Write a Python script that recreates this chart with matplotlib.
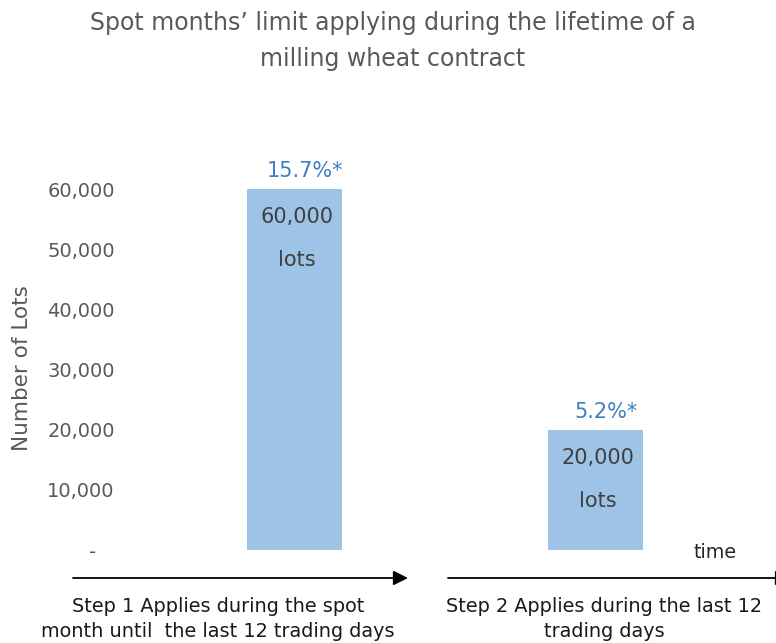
import matplotlib
matplotlib.use('Agg')
import matplotlib.pyplot as plt
import numpy as np

# data
steps = ['Step 1 Applies during the spot\nmonth until  the last 12 trading days',
         'Step 2 Applies during the last 12\ntrading days']
lots = [60000, 20000]
share = ['15.7%*', '5.2%*']
yticks = [0, 10000, 20000, 30000, 40000, 50000, 60000]
ytick_labels = ['-   ', '10,000', '20,000', '30,000', '40,000', '50,000', '60,000']

plt.rcParams['font.family'] = ['DejaVu Sans']
grey = '#595959'
bar_col = '#9DC3E6'
lab_col = '#3F7FC0'

fig = plt.figure(figsize=(7.76, 6.43), dpi=100)
ax = fig.add_axes([0.1856, 0.1446, 0.7758, 0.6175])

x = np.arange(len(lots))
bars = ax.bar(x, lots, width=0.316, color=bar_col)

ax.set_xlim(-0.5, 1.5)
ax.set_ylim(0, 66000)
ax.set_yticks(yticks)
ax.set_yticklabels(ytick_labels)
ax.set_xticks([])
ax.tick_params(axis='y', length=0, pad=21, labelsize=14, labelcolor=grey)
for s in ax.spines.values():
    s.set_visible(False)

# labels above and inside the bars
for xi, v, p in zip(x, lots, share):
    ax.annotate(p, (xi, v), xytext=(10, 8), textcoords='offset pixels',
                ha='center', va='bottom', fontsize=15, color=lab_col)
    ax.annotate(f'{v:,}', (xi, v), xytext=(2, -28), textcoords='offset pixels',
                ha='center', va='center', fontsize=15, color='#404040')
    ax.annotate('lots', (xi, v), xytext=(2, -71), textcoords='offset pixels',
                ha='center', va='center', fontsize=15, color='#404040')

# titles
fig.text(0.506, 1 - 41 / 643, "Spot months\u2019 limit applying during the lifetime of a\nmilling wheat contract",
         ha='center', va='center', fontsize=17, color=grey, linespacing=1.65)
fig.text(22 / 776, 1 - 368 / 643, 'Number of Lots', rotation=90, ha='center', va='center',
         fontsize=15.5, color=grey)

# time arrows underneath
arrow = dict(arrowstyle='-|>', color='black', lw=1.3, mutation_scale=22, shrinkA=0, shrinkB=0)
ax.annotate('', xy=(408, 65), xytext=(73, 65), xycoords='figure pixels', arrowprops=arrow)
ax.annotate('', xy=(790, 65), xytext=(448, 65), xycoords='figure pixels', arrowprops=arrow)
fig.text(715 / 776, 1 - 553 / 643, 'time', ha='center', va='center', fontsize=13.8, color='#262626')

for cx, s in zip([218, 604], steps):
    fig.text(cx / 776, 1 - 619 / 643, s, ha='center', va='center', fontsize=13.9,
             color='#1a1a1a', linespacing=1.4)

fig.savefig('out.png', dpi=100)
